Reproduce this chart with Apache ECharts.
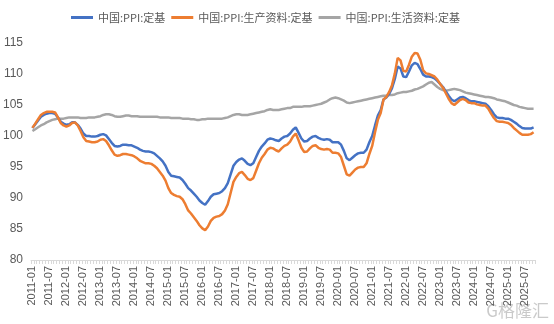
<!DOCTYPE html>
<html>
<head>
<meta charset="utf-8">
<script src="https://cdn.jsdelivr.net/npm/echarts@6/dist/echarts.min.js"></script>
<style>
html,body{margin:0;padding:0;background:#fff;}
#c{width:554px;height:324px;}
</style>
</head>
<body>
<div id="c"></div>
<script>
// Series names
const seriesNames = ['中国:PPI:定基', '中国:PPI:生产资料:定基', '中国:PPI:生活资料:定基'];

// Monthly categories 2011-01 .. 2025-10
const months = [];
for (let y = 2011; y <= 2025; y++) {
  for (let m = 1; m <= 12; m++) {
    if (y === 2025 && m > 10) break;
    months.push(y + '-' + (m < 10 ? '0' + m : m));
  }
}

// PPI: fixed base
const ppiTotal = [
  101.3,101.9,102.5,103.1,103.4,103.6,103.7,103.7,103.6,103.0,102.3,102.0,
  101.8,101.9,102.2,102.2,101.8,101.2,100.4,100.0,100.0,99.9,99.9,100.0,
  100.2,100.3,100.1,99.5,98.9,98.4,98.3,98.4,98.6,98.6,98.5,98.5,
  98.3,98.1,97.8,97.6,97.5,97.5,97.4,97.2,96.8,96.4,95.9,95.2,
  94.2,93.6,93.5,93.4,93.3,92.9,92.3,91.6,91.2,90.7,90.2,89.6,
  89.2,88.9,89.5,90.2,90.6,90.7,90.8,91.1,91.6,92.4,93.8,95.2,
  95.8,96.2,96.4,96.0,95.5,95.3,95.6,96.6,97.6,98.3,98.8,99.4,
  99.6,99.5,99.3,99.2,99.6,99.9,100.0,100.4,101.0,101.4,100.5,99.6,
  99.1,99.2,99.6,99.9,100.0,99.7,99.5,99.4,99.5,99.4,99.0,99.0,
  99.0,98.6,97.6,96.4,96.1,96.5,96.9,97.2,97.3,97.3,97.8,99.0,
  100.0,101.7,103.3,104.2,105.9,106.2,106.8,107.7,109.2,111.2,110.9,109.6,
  109.5,110.4,111.4,111.8,111.6,110.8,109.9,109.6,109.6,109.5,109.3,108.9,
  108.4,107.9,107.2,106.5,105.9,105.6,105.9,106.2,106.3,106.1,105.8,105.6,
  105.6,105.5,105.4,105.3,105.2,104.8,104.2,103.5,103.0,102.9,102.9,102.8,
  102.8,102.6,102.3,102.0,101.6,101.3,101.2,101.2,101.2,101.4
];

// PPI producer goods: fixed base
const ppiProducer = [
  101.3,102.0,102.7,103.4,103.7,103.9,103.9,103.9,103.8,103.0,102.1,101.7,
  101.5,101.7,102.1,102.2,101.7,100.8,99.8,99.2,99.1,99.0,99.0,99.1,
  99.4,99.5,99.2,98.5,97.7,97.0,96.8,96.9,97.1,97.1,97.0,96.9,
  96.7,96.4,96.0,95.8,95.6,95.6,95.5,95.2,94.8,94.2,93.6,92.8,
  91.6,90.8,90.5,90.3,90.2,89.8,89.0,88.0,87.5,86.9,86.3,85.6,
  85.1,84.8,85.4,86.3,86.8,87.0,87.1,87.4,88.0,89.0,90.8,92.6,
  93.4,94.0,94.2,93.7,93.1,92.9,93.2,94.4,95.6,96.5,97.1,97.8,
  98.1,98.0,97.7,97.5,98.0,98.4,98.6,99.1,99.9,100.4,99.3,98.1,
  97.4,97.5,98.0,98.4,98.5,98.1,97.9,97.8,97.9,97.8,97.3,97.3,
  97.2,96.6,95.2,93.8,93.6,94.1,94.6,94.9,95.0,95.0,95.6,97.1,
  98.4,100.6,102.6,103.7,105.9,106.3,107.1,108.2,110.1,112.6,112.2,110.5,
  110.4,111.5,112.8,113.4,113.3,112.3,110.6,110.1,110.0,109.8,109.6,109.1,
  108.4,107.8,106.9,106.0,105.3,105.0,105.4,105.8,106.0,105.8,105.4,105.3,
  105.3,105.1,105.0,104.9,104.9,104.4,103.6,102.9,102.4,102.3,102.3,102.2,
  102.1,101.8,101.3,100.9,100.5,100.2,100.2,100.2,100.3,100.6
];

// PPI consumer goods: fixed base
const ppiConsumer = [
  100.8,101.1,101.4,101.7,101.9,102.2,102.4,102.6,102.7,102.8,102.8,102.8,
  102.9,103.0,103.0,103.0,103.0,102.9,102.9,102.9,103.0,103.0,103.0,103.1,
  103.2,103.4,103.5,103.5,103.4,103.2,103.1,103.1,103.2,103.3,103.3,103.2,
  103.2,103.2,103.1,103.1,103.1,103.1,103.1,103.1,103.1,103.0,103.0,103.0,
  103.0,102.9,102.9,102.9,102.9,102.8,102.8,102.8,102.7,102.7,102.6,102.6,
  102.7,102.7,102.8,102.8,102.8,102.8,102.8,102.8,102.9,103.0,103.2,103.4,
  103.5,103.5,103.4,103.4,103.4,103.5,103.6,103.7,103.8,103.9,104.0,104.2,
  104.3,104.2,104.2,104.2,104.3,104.4,104.5,104.5,104.7,104.7,104.7,104.7,
  104.8,104.8,104.8,104.9,105.0,105.1,105.2,105.4,105.6,105.9,106.1,106.2,
  106.1,105.9,105.7,105.4,105.3,105.4,105.5,105.6,105.7,105.8,105.9,106.0,
  106.1,106.2,106.3,106.4,106.5,106.5,106.6,106.6,106.7,106.9,107.0,107.1,
  107.1,107.2,107.3,107.5,107.6,107.8,108.0,108.3,108.6,108.7,108.3,107.9,
  107.6,107.4,107.3,107.4,107.5,107.6,107.5,107.4,107.2,107.0,106.9,106.8,
  106.7,106.6,106.5,106.4,106.3,106.3,106.2,106.1,105.9,105.8,105.7,105.6,
  105.4,105.2,105.0,104.9,104.7,104.6,104.5,104.4,104.4,104.4
];

const yTicks = { min: 80, max: 115, interval: 5 };
const colors = ['#4472C4', '#ED7D31', '#A5A5A5'];

const chart = echarts.init(document.getElementById('c'), null, { renderer: 'canvas' });
const txt = '#595959';
chart.setOption({
  animation: false,
  color: colors,
  legend: {
    top: 7,
    left: 66,
    itemWidth: 22,
    itemHeight: 3,
    itemGap: 6,
    icon: 'rect',
    textStyle: { color: txt, fontSize: 11, fontFamily: 'Noto Sans CJK SC' },
    data: seriesNames
  },
  grid: { left: 31, right: 19, top: 43, bottom: 64, containLabel: false },
  xAxis: {
    type: 'category',
    data: months,
    boundaryGap: true,
    axisLine: { lineStyle: { color: '#D9D9D9', width: 1 } },
    axisTick: { show: true, interval: 0, length: 4, lineStyle: { color: '#D9D9D9' } },
    axisLabel: {
      interval: 5,
      rotate: 90,
      color: txt,
      fontSize: 11,
      fontFamily: 'Liberation Sans',
      margin: 6
    },
    splitLine: { show: false }
  },
  yAxis: {
    type: 'value',
    min: yTicks.min,
    max: yTicks.max,
    interval: yTicks.interval,
    axisLine: { show: false },
    axisTick: { show: false },
    splitLine: { show: false },
    axisLabel: { color: txt, fontSize: 12, fontFamily: 'Liberation Sans', margin: 8 }
  },
  series: [
    { name: seriesNames[0], type: 'line', data: ppiTotal, showSymbol: false, lineStyle: { width: 2.5 }, z: 3 },
    { name: seriesNames[1], type: 'line', data: ppiProducer, showSymbol: false, lineStyle: { width: 2.5 }, z: 4 },
    { name: seriesNames[2], type: 'line', data: ppiConsumer, showSymbol: false, lineStyle: { width: 2.5 }, z: 2 }
  ],
  graphic: [
    {
      type: 'text',
      right: 5,
      bottom: 5,
      style: { text: 'G格隆汇', fill: 'rgba(150,150,150,0.5)', font: '17px "Noto Sans CJK SC"' }
    }
  ]
});
</script>
</body>
</html>
